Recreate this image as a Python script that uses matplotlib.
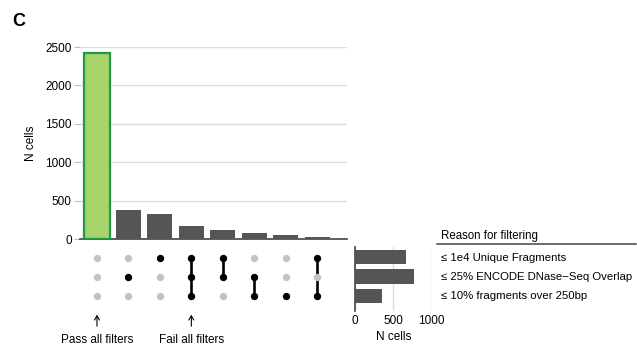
import matplotlib
matplotlib.use("Agg")
import matplotlib.pyplot as plt

plt.rcParams['font.family'] = ['Liberation Sans', 'DejaVu Sans']

filters = ["≤ 1e4 Unique Fragments",
           "≤ 25% ENCODE DNase−Seq Overlap",
           "≤ 10% fragments over 250bp"]
intersection_counts = [2420, 384, 332, 170, 113, 83, 48, 31]
intersection_members = [[], [1], [0], [0, 1, 2], [0, 1], [1, 2], [2], [0, 2]]
filter_totals = [660, 770, 355]
main_yticks = [0, 500, 1000, 1500, 2000, 2500]
side_xticks = [0, 500, 1000]

W, H = 637, 347
fig = plt.figure(figsize=(W / 100, H / 100), dpi=100)

def rect(x0, y0, x1, y1):
    return [x0 / W, 1 - y1 / H, (x1 - x0) / W, (y1 - y0) / H]

xlim = (-0.54, 7.95)
bar_col = "#555555"
grid_col = "#dddddd"

# Main bar chart
ax = fig.add_axes(rect(80, 47, 347, 239))
xs = list(range(len(intersection_counts)))
colors = ["#a6d46b"] + [bar_col] * (len(xs) - 1)
edges = ["#1e9a48"] + [bar_col] * (len(xs) - 1)
lws = [1.6] + [0] * (len(xs) - 1)
ax.bar(xs, intersection_counts, width=0.8, color=colors, edgecolor=edges,
       linewidth=lws, zorder=3)
ax.set_xlim(*xlim)
ax.set_ylim(0, 2500)
ax.set_yticks(main_yticks)
ax.set_xticks([])
ax.yaxis.grid(True, color=grid_col, linewidth=1, zorder=0)
ax.set_axisbelow(True)
for s in ["top", "right", "left"]:
    ax.spines[s].set_visible(False)
ax.spines["bottom"].set_color("#444444")
ax.spines["bottom"].set_linewidth(1.2)
ax.tick_params(axis="y", length=4, color="#bbbbbb", labelsize=8.5, pad=2)
ax.set_ylabel("N cells", fontsize=8.5, labelpad=6)

# Matrix
mx = fig.add_axes(rect(80, 248, 347, 306))
mx.set_xlim(*xlim)
mx.set_ylim(2.5, -0.5)
mx.axis("off")
for i, mem in enumerate(intersection_members):
    for r in range(len(filters)):
        c = "black" if r in mem else "#c2c2c2"
        mx.scatter([i], [r], s=28, color=c, zorder=3, linewidths=0)
    if len(mem) >= 2:
        mx.plot([i, i], [min(mem), max(mem)], color="black", lw=1.9, zorder=2)

# Side bar chart
sx = fig.add_axes(rect(355, 247, 431.7, 311))
sx.barh(range(len(filters)), filter_totals, height=0.73, color=bar_col, zorder=3)
sx.set_xlim(0, 1000)
sx.set_ylim(2.77, -0.5)
sx.set_xticks(side_xticks)
sx.set_yticks([])
sx.xaxis.grid(True, color=grid_col, linewidth=1, zorder=0)
for s in ["top", "right", "bottom"]:
    sx.spines[s].set_visible(False)
sx.spines["left"].set_color("#444444")
sx.spines["left"].set_linewidth(1.2)
sx.tick_params(axis="x", length=0, labelsize=8.5, pad=3)
sx.set_xlabel("N cells", fontsize=8.5, labelpad=3)

# Legend / filter labels
fig.text(441 / W, 1 - 236 / H, "Reason for filtering", fontsize=8.3,
         va="center", ha="left")
fig.add_artist(plt.Line2D([437 / W, 636 / W], [1 - 244 / H, 1 - 244 / H],
                          color="#444444", lw=1.1))
for r, name in enumerate(filters):
    yp = mx.transData.transform((0, r))[1] / (H)
    fig.text(441 / W, yp, name, fontsize=8.2, va="center", ha="left")

# Arrows and annotations
for idx, label in [(0, "Pass all filters"), (3, "Fail all filters")]:
    xp = mx.transData.transform((idx, 0))[0] / W
    fig.add_artist(matplotlib.patches.FancyArrowPatch(
        (xp, 1 - 329 / H), (xp, 1 - 312 / H), transform=fig.transFigure,
        arrowstyle="->,head_length=3,head_width=1.8", color="black", lw=0.8))
    fig.text(xp, 1 - 340 / H, label, fontsize=8.5, ha="center", va="center")

fig.text(12 / W, 1 - 22 / H, "C", fontsize=13, fontweight="bold",
         ha="left", va="center")

fig.savefig("out.png", dpi=100)
